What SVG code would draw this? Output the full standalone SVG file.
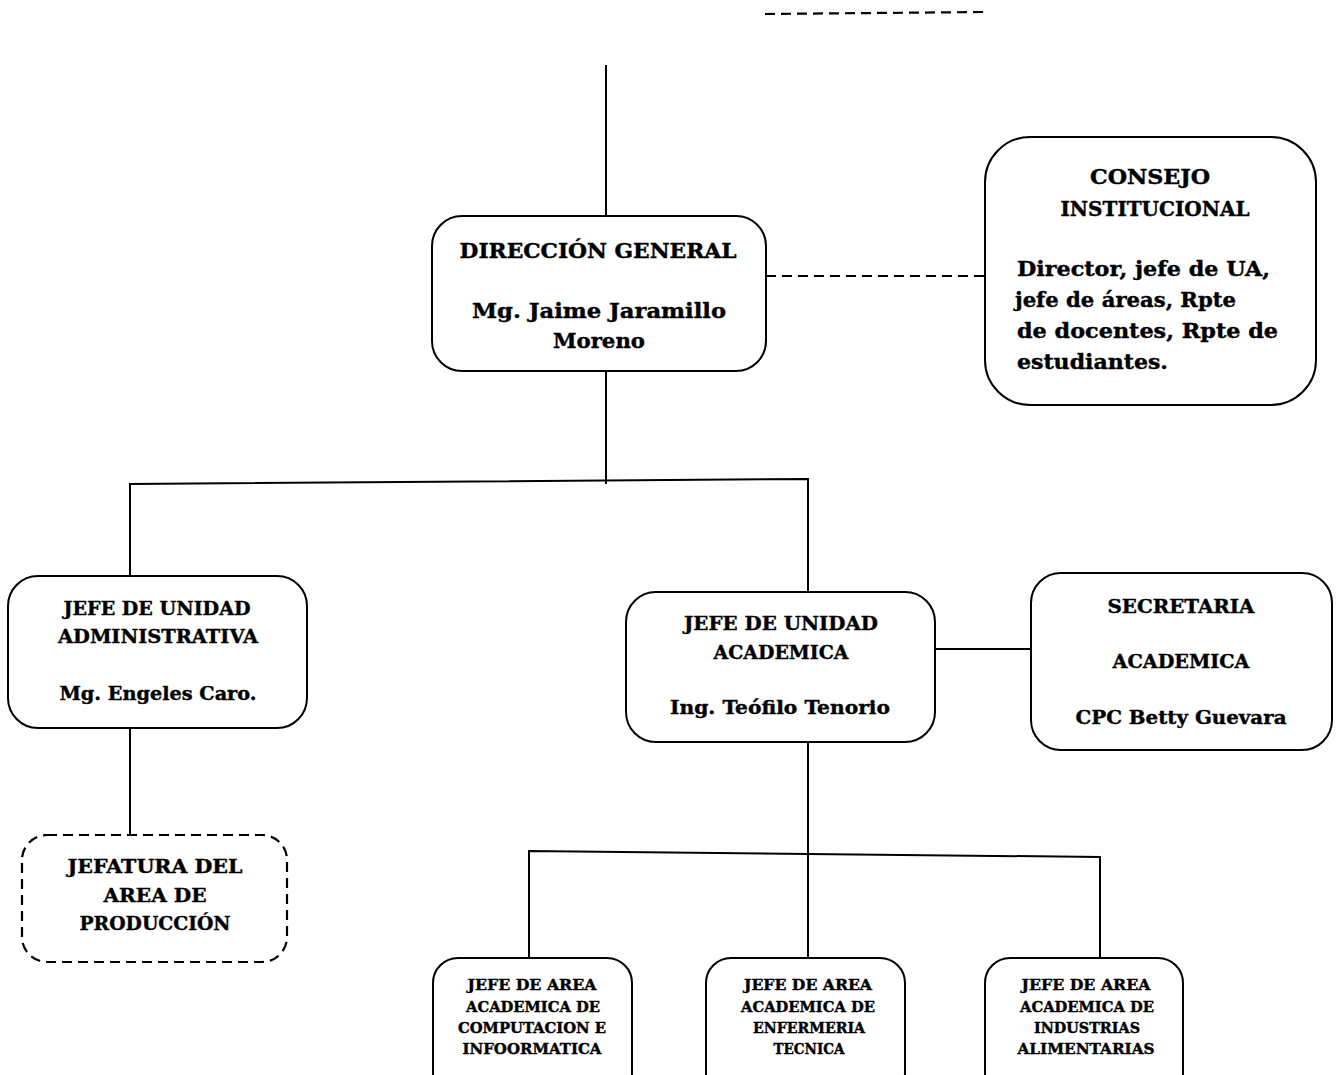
<svg xmlns="http://www.w3.org/2000/svg" width="1338" height="1075" viewBox="0 0 1338 1075">
<style>
.box{fill:#fff;stroke:#000;stroke-width:2}
.dbox{fill:#fff;stroke:#000;stroke-width:2.2;stroke-dasharray:10 6}
.ln{fill:none;stroke:#000;stroke-width:2}
.dl{fill:none;stroke:#000;stroke-width:2.2;stroke-dasharray:10 6}
text{font-family:"DejaVu Serif","Liberation Serif",serif;font-weight:bold;fill:#000;stroke:#000;stroke-width:0.4}
.c{text-anchor:middle}
.t1{font-size:21px}
.t2{font-size:18.5px}
.t3{font-size:19px}
.t4{font-size:14.5px}
</style>
<rect width="1338" height="1075" fill="#fff"/>
<g id="connectors">
<path class="dl" d="M765 14 L983 12"/>
<path class="ln" d="M606 65 V216"/>
<path class="dl" d="M766 276 H985"/>
<path class="ln" d="M606 371 V484"/>
<path class="ln" d="M130 576 V484 L808 479 V592"/>
<path class="ln" d="M935 649 H1031"/>
<path class="ln" d="M130 728 V835"/>
<path class="ln" d="M808 742 V958"/>
<path class="ln" d="M529 958 V851 L1100 857 V958"/>
</g>
<g id="direccion">
<rect class="box" x="432" y="216" width="334" height="155" rx="30"/>
<text class="t1 c" x="598" y="258" textLength="277" lengthAdjust="spacingAndGlyphs">DIRECCIÓN GENERAL</text>
<text class="t1 c" x="599" y="318" textLength="254" lengthAdjust="spacingAndGlyphs">Mg. Jaime Jaramillo</text>
<text class="t1 c" x="599" y="348" textLength="92" lengthAdjust="spacingAndGlyphs">Moreno</text>
</g>
<g id="consejo">
<rect class="box" x="985" y="137" width="331" height="268" rx="45"/>
<text class="t1 c" x="1150" y="184" textLength="120" lengthAdjust="spacingAndGlyphs">CONSEJO</text>
<text class="t1 c" x="1155" y="216" textLength="189" lengthAdjust="spacingAndGlyphs">INSTITUCIONAL</text>
<text class="t1" x="1017" y="276" textLength="253" lengthAdjust="spacingAndGlyphs">Director, jefe de UA,</text>
<text class="t1" x="1015" y="307" textLength="221" lengthAdjust="spacingAndGlyphs">jefe de áreas, Rpte</text>
<text class="t1" x="1017" y="338" textLength="261" lengthAdjust="spacingAndGlyphs">de docentes, Rpte de</text>
<text class="t1" x="1017" y="369" textLength="151" lengthAdjust="spacingAndGlyphs">estudiantes.</text>
</g>
<g id="jefe-administrativa">
<rect class="box" x="8" y="576" width="299" height="152" rx="30"/>
<text class="t2 c" x="157" y="615" textLength="187" lengthAdjust="spacingAndGlyphs">JEFE DE UNIDAD</text>
<text class="t2 c" x="158" y="643" textLength="200" lengthAdjust="spacingAndGlyphs">ADMINISTRATIVA</text>
<text class="t2 c" x="158" y="700" textLength="197" lengthAdjust="spacingAndGlyphs">Mg. Engeles Caro.</text>
</g>
<g id="jefatura-produccion">
<rect class="dbox" x="22" y="835" width="265" height="127" rx="25"/>
<text class="t2 c" x="155" y="873" textLength="175" lengthAdjust="spacingAndGlyphs">JEFATURA DEL</text>
<text class="t2 c" x="155" y="902" textLength="103" lengthAdjust="spacingAndGlyphs">AREA DE</text>
<text class="t2 c" x="155" y="930" textLength="151" lengthAdjust="spacingAndGlyphs">PRODUCCIÓN</text>
</g>
<g id="jefe-academica">
<rect class="box" x="626" y="592" width="309" height="150" rx="30"/>
<text class="t3 c" x="781" y="630" textLength="194" lengthAdjust="spacingAndGlyphs">JEFE DE UNIDAD</text>
<text class="t3 c" x="781" y="659" textLength="135" lengthAdjust="spacingAndGlyphs">ACADEMICA</text>
<text class="t3 c" x="780" y="714" textLength="220" lengthAdjust="spacingAndGlyphs">Ing. Teófilo Tenorio</text>
</g>
<g id="secretaria">
<rect class="box" x="1031" y="573" width="301" height="177" rx="30"/>
<text class="t3 c" x="1181" y="613" textLength="147" lengthAdjust="spacingAndGlyphs">SECRETARIA</text>
<text class="t3 c" x="1181" y="668" textLength="137" lengthAdjust="spacingAndGlyphs">ACADEMICA</text>
<text class="t3 c" x="1181" y="724" textLength="211" lengthAdjust="spacingAndGlyphs">CPC Betty Guevara</text>
</g>
<g id="area-computacion">
<rect class="box" x="433" y="958" width="199" height="140" rx="25"/>
<text class="t4 c" x="532" y="990" textLength="129" lengthAdjust="spacingAndGlyphs">JEFE DE AREA</text>
<text class="t4 c" x="533" y="1012" textLength="134" lengthAdjust="spacingAndGlyphs">ACADEMICA DE</text>
<text class="t4 c" x="532" y="1033" textLength="148" lengthAdjust="spacingAndGlyphs">COMPUTACION E</text>
<text class="t4 c" x="532" y="1054" textLength="139" lengthAdjust="spacingAndGlyphs">INFOORMATICA</text>
</g>
<g id="area-enfermeria">
<rect class="box" x="706" y="958" width="199" height="140" rx="25"/>
<text class="t4 c" x="808" y="990" textLength="128" lengthAdjust="spacingAndGlyphs">JEFE DE AREA</text>
<text class="t4 c" x="808" y="1012" textLength="134" lengthAdjust="spacingAndGlyphs">ACADEMICA DE</text>
<text class="t4 c" x="809" y="1033" textLength="112" lengthAdjust="spacingAndGlyphs">ENFERMERIA</text>
<text class="t4 c" x="809" y="1054" textLength="71" lengthAdjust="spacingAndGlyphs">TECNICA</text>
</g>
<g id="area-industrias">
<rect class="box" x="985" y="958" width="198" height="140" rx="25"/>
<text class="t4 c" x="1086" y="990" textLength="129" lengthAdjust="spacingAndGlyphs">JEFE DE AREA</text>
<text class="t4 c" x="1087" y="1012" textLength="134" lengthAdjust="spacingAndGlyphs">ACADEMICA DE</text>
<text class="t4 c" x="1087" y="1033" textLength="106" lengthAdjust="spacingAndGlyphs">INDUSTRIAS</text>
<text class="t4 c" x="1086" y="1054" textLength="137" lengthAdjust="spacingAndGlyphs">ALIMENTARIAS</text>
</g>
</svg>
